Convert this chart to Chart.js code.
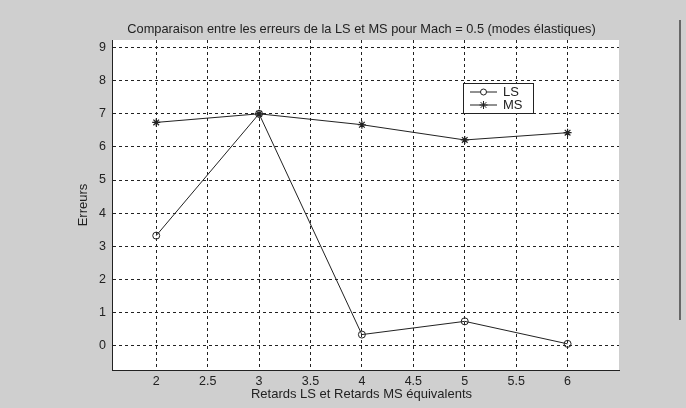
<!DOCTYPE html>
<html>
<head>
<meta charset="utf-8">
<script src="https://cdn.jsdelivr.net/npm/chart.js@4.4.1/dist/chart.umd.min.js"></script>
<style>
  html, body { margin: 0; padding: 0; background: #cfcfcf; }
  #wrap { width: 686px; height: 408px; position: relative; }
</style>
</head>
<body>
<div id="wrap"><canvas id="myChart" width="686" height="408"></canvas></div>
<script>
// data
const retards = [2, 3, 4, 5, 6];
const erreursLS = [3.32, 7.0, 0.33, 0.73, 0.05];
const erreursMS = [6.74, 7.0, 6.67, 6.21, 6.43];
const xTicks = [2, 2.5, 3, 3.5, 4, 4.5, 5, 5.5, 6];
const yTicks = [0, 1, 2, 3, 4, 5, 6, 7, 8, 9];

const titleText = "Comparaison entre les erreurs de la LS et MS pour Mach = 0.5 (modes élastiques)";
const xTitle = "Retards LS et Retards MS équivalents";
const yTitle = "Erreurs";
const FONT = "'Liberation Sans', Arial, sans-serif";
const INK = "#222";

// white plot area + texts + legend, drawn around the chart
const decor = {
  id: "decor",
  beforeDraw(chart) {
    const { ctx, chartArea: a } = chart;
    ctx.save();
    ctx.fillStyle = "#fff";
    ctx.fillRect(a.left, a.top, a.right - a.left, a.bottom - a.top);
    ctx.restore();
  },
  afterDraw(chart) {
    const { ctx, chartArea: a } = chart;
    ctx.save();
    ctx.fillStyle = INK;
    ctx.font = "12.8px " + FONT;
    ctx.textAlign = "center";
    ctx.textBaseline = "middle";
    ctx.fillText(titleText, (a.left + a.right) / 2 - 4, 29);
    ctx.font = "13px " + FONT;
    ctx.fillText(xTitle, (a.left + a.right) / 2 - 4, 394);
    ctx.translate(83, (a.top + a.bottom) / 2);
    ctx.rotate(-Math.PI / 2);
    ctx.fillText(yTitle, 0, 0);
    ctx.restore();

    // legend box
    ctx.save();
    ctx.fillStyle = "#fff";
    ctx.fillRect(463, 83, 70, 30);
    ctx.strokeStyle = INK;
    ctx.lineWidth = 1;
    ctx.strokeRect(463.5, 83.5, 70, 30);
    const rows = [
      { y: 92, label: "LS", style: "circle" },
      { y: 105, label: "MS", style: "star" }
    ];
    rows.forEach(r => {
      ctx.beginPath();
      ctx.moveTo(470, r.y);
      ctx.lineTo(497, r.y);
      ctx.strokeStyle = INK;
      ctx.stroke();
      Chart.helpers.drawPoint(ctx, {
        pointStyle: r.style, radius: r.style === "circle" ? 3 : 4,
        borderWidth: 1, rotation: 0
      }, 483.5, r.y);
      ctx.fillStyle = INK;
      ctx.font = "13px " + FONT;
      ctx.textAlign = "left";
      ctx.textBaseline = "middle";
      ctx.fillText(r.label, 503, r.y);
    });
    ctx.restore();

    // scan edge line on the right
    ctx.save();
    ctx.strokeStyle = "#444";
    ctx.lineWidth = 1.5;
    ctx.beginPath();
    ctx.moveTo(680, 20);
    ctx.lineTo(680, 320);
    ctx.stroke();
    ctx.restore();
  }
};

new Chart(document.getElementById("myChart"), {
  type: "line",
  data: {
    datasets: [
      {
        label: "LS",
        data: retards.map((x, i) => ({ x: x, y: erreursLS[i] })),
        borderColor: INK,
        borderWidth: 1,
        pointStyle: "circle",
        pointRadius: 3.5,
        pointBackgroundColor: "rgba(0,0,0,0)",
        pointBorderColor: INK,
        pointBorderWidth: 1
      },
      {
        label: "MS",
        data: retards.map((x, i) => ({ x: x, y: erreursMS[i] })),
        borderColor: INK,
        borderWidth: 1,
        pointStyle: "star",
        pointRadius: 4,
        pointBorderColor: INK,
        pointBorderWidth: 1.2
      }
    ]
  },
  options: {
    responsive: false,
    animation: false,
    layout: { padding: { left: 0, top: 40, right: 67, bottom: 0 } },
    plugins: {
      legend: { display: false },
      title: { display: false },
      tooltip: { enabled: false }
    },
    scales: {
      x: {
        type: "linear",
        min: 1.57,
        max: 6.5,
        afterBuildTicks: s => { s.ticks = xTicks.map(v => ({ value: v })); },
        afterFit: s => { s.height = 38; },
        grid: { color: INK, lineWidth: 1, drawTicks: false },
        border: { display: true, color: INK, width: 1, dash: [3, 3] },
        ticks: {
          color: INK,
          font: { family: FONT, size: 12.5 },
          padding: 4,
          maxRotation: 0,
          callback: v => String(v)
        }
      },
      y: {
        type: "linear",
        min: -0.74,
        max: 9.23,
        afterBuildTicks: s => { s.ticks = yTicks.map(v => ({ value: v })); },
        afterFit: s => { s.width = 112; },
        grid: { color: INK, lineWidth: 1, drawTicks: false },
        border: { display: true, color: INK, width: 1, dash: [3, 3] },
        ticks: {
          color: INK,
          font: { family: FONT, size: 12.5 },
          padding: 6,
          callback: v => String(v)
        }
      }
    }
  },
  plugins: [decor]
});
</script>
</body>
</html>
